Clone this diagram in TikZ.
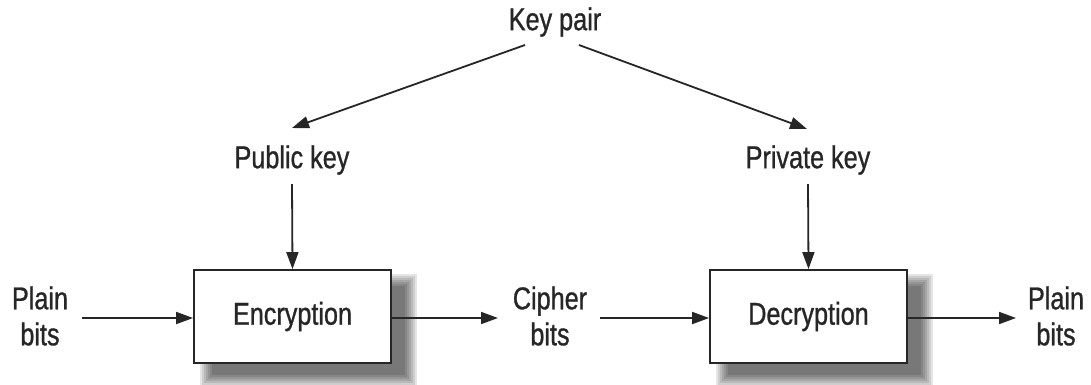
\documentclass[tikz,border=0pt]{standalone}
\usepackage{fontspec}
\setmainfont[FakeStretch=0.80, FakeBold=0.9]{Liberation Sans}
\usetikzlibrary{arrows.meta}
\definecolor{ink}{HTML}{262626}
\tikzset{
  lbl/.style={text=ink, font=\fontsize{31.5}{36}\selectfont, align=center, inner sep=0pt},
  proc/.style={draw=ink, line width=1.8pt, fill=white, minimum width=197pt, minimum height=93pt,
               inner sep=0pt, text=ink, font=\fontsize{31.5}{36}\selectfont},
  flow/.style={draw=ink, line width=1.8pt, -{Triangle[length=17pt,width=12pt]}},
}
% soft drop shadow behind a process box
\newcommand{\softshadow}[1]{%
  \foreach \s in {9,7,5,3,1,-1,-3}{%
    \fill[black, opacity=0.1]
      ([xshift=16pt-\s pt, yshift=-14pt+\s pt]#1.north west) rectangle
      ([xshift=16pt+\s pt, yshift=-14pt-\s pt]#1.south east);
  }}
\begin{document}
\begin{tikzpicture}[x=1pt, y=-1pt]
  \useasboundingbox (0,0) rectangle (1091,384);

  % key generation
  \node[lbl] (pair) at (555,22) {Key pair};
  \node[lbl] (pub)  at (292,160) {Public key};
  \node[lbl] (priv) at (808,160) {Private key};

  % process boxes with shadows
  \path (292.5,316.5) coordinate (encc) (808.5,316.5) coordinate (decc);
  \node[proc, draw=none, fill=none] (encs) at (encc) {};
  \node[proc, draw=none, fill=none] (decs) at (decc) {};
  \softshadow{encs}
  \softshadow{decs}
  \node[proc] (enc) at (encc) {Encryption};
  \node[proc] (dec) at (decc) {Decryption};

  % data labels
  \node[lbl] (pin)  at (40,316)   {Plain\\bits};
  \node[lbl] (ciph) at (550,316)  {Cipher\\bits};
  \node[lbl] (pout) at (1056,316) {Plain\\bits};

  % connector end points
  \coordinate (kpl) at (525,45);
  \coordinate (kpr) at (579,45);
  \coordinate (pubin) at (292,128);
  \coordinate (privin) at (807,129);
  \coordinate (pubout) at (292,184);
  \coordinate (privout) at (808,184);
  \coordinate (pinout) at (82,318);
  \coordinate (ciphin) at (498,318);
  \coordinate (ciphout) at (600,318);
  \coordinate (poutin) at (1016,318);

  % connectors
  \draw[flow] (kpl) -- (pubin);
  \draw[flow] (kpr) -- (privin);
  \draw[flow] (pubout) -- (enc.north);
  \draw[flow] (privout) -- (dec.north);
  \draw[flow] (pinout) -- (enc.west |- pinout);
  \draw[flow] (enc.east |- ciphin) -- (ciphin);
  \draw[flow] (ciphout) -- (dec.west |- ciphout);
  \draw[flow] (dec.east |- poutin) -- (poutin);
\end{tikzpicture}
\end{document}
